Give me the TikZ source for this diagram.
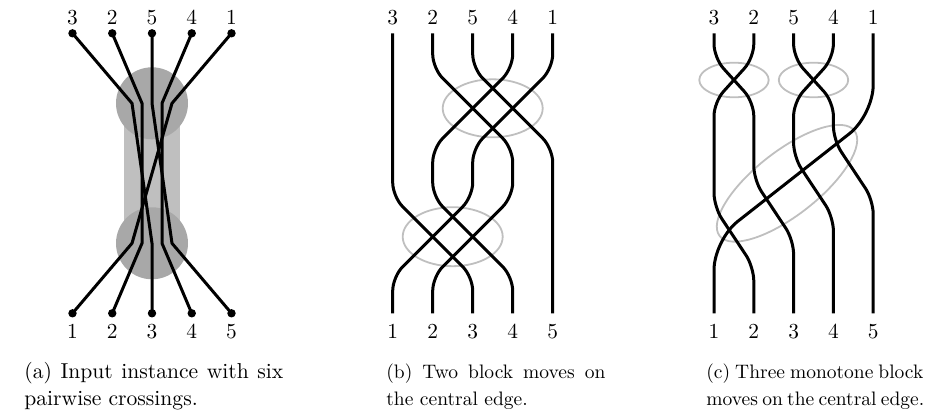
\documentclass[tikz,border=0pt]{standalone}
\begin{document}
\begin{tikzpicture}[x=0.5pt,y=-0.5pt,
  strand/.style={line width=1.5pt, rounded corners=7pt},
  ring/.style={draw=black!25, line width=0.9pt},
  lab/.style={font=\fontsize{10.7}{13}\selectfont, anchor=base, inner sep=0pt},
  captext/.style={font=\fontsize{9.75}{12.5}\selectfont, anchor=base west, inner sep=0pt},
  enddot/.style={circle, fill=black, inner sep=0pt, minimum size=4.2pt}]
\useasboundingbox (0,0) rectangle (932,416);

% ---------- (a)
\fill[black!25] (124,103.3) rectangle (180,243.3);
\fill[black!34] (152,103.3) circle[radius=18pt];
\fill[black!34] (152,243.3) circle[radius=18pt];
\foreach \n/\x in {1/72.5,2/112.25,3/152,4/191.75,5/231.5}{
  \node[enddot] (at\n) at (\x,33.3) {};
  \node[enddot] (ab\n) at (\x,313.3) {};
}
\draw[line width=1.5pt] (at1.center) -- (132,103.3) -- (152,243.3) -- (ab3.center);
\draw[line width=1.5pt] (at2.center) -- (142,103.3) -- (142,243.3) -- (ab2.center);
\draw[line width=1.5pt] (at3.center) -- (152,103.3) -- (172,243.3) -- (ab5.center);
\draw[line width=1.5pt] (at4.center) -- (162,103.3) -- (162,243.3) -- (ab4.center);
\draw[line width=1.5pt] (at5.center) -- (172,103.3) -- (132,243.3) -- (ab1.center);
\foreach \n/\x/\t in {1/72.5/3,2/112.25/2,3/152/5,4/191.75/4,5/231.5/1}{
  \node[lab] (alt\n) at (\x,25) {\t};
}
\foreach \n/\x in {1/72.5,2/112.25,3/152,4/191.75,5/231.5}{
  \node[lab] (alb\n) at (\x,339) {\n};
}
\node[captext] (capa1) at (24,379) {\fontsize{10.8}{13}\selectfont\makebox[129.5pt][s]{(a) Input instance with six}};
\node[captext] (capa2) at (24,406) {\fontsize{10.8}{13}\selectfont pairwise crossings.};

% ---------- (b)
\draw[ring] (492.7,108.3) ellipse[x radius=25pt, y radius=14.5pt];
\draw[ring] (452.7,236.7) ellipse[x radius=25pt, y radius=14.75pt];
\foreach \n/\x in {1/392.7,2/432.7,3/472.7,4/512.7,5/552.7}{
  \coordinate (bt\n) at (\x,33.3);
  \coordinate (bb\n) at (\x,313.3);
}
\draw[strand] (bt1) -- (392.7,196.7) -- (472.7,276.7) -- (bb3);
\draw[strand] (bt2) -- (432.7,68.3) -- (512.7,148.3) -- (512.7,196.7) -- (432.7,276.7) -- (bb2);
\draw[strand] (bt3) -- (472.7,68.3) -- (552.7,148.3) -- (bb5);
\draw[strand] (bt4) -- (512.7,68.3) -- (432.7,148.3) -- (432.7,196.7) -- (512.7,276.7) -- (bb4);
\draw[strand] (bt5) -- (552.7,68.3) -- (472.7,148.3) -- (472.7,196.7) -- (392.7,276.7) -- (bb1);
\foreach \n/\x/\t in {1/392.7/3,2/432.7/2,3/472.7/5,4/512.7/4,5/552.7/1}{
  \node[lab] (blt\n) at (\x,25) {\t};
}
\foreach \n/\x in {1/392.7,2/432.7,3/472.7,4/512.7,5/552.7}{
  \node[lab] (blb\n) at (\x,339) {\n};
}
\node[captext] (capb1) at (386,379) {\makebox[109.5pt][s]{(b) Two block moves on}};
\node[captext] (capb2) at (386,406) {the central edge.};

% ---------- (c)
\draw[ring] (734,80) ellipse[x radius=17.35pt, y radius=8.65pt];
\draw[ring] (813.5,80) ellipse[x radius=17.35pt, y radius=8.65pt];
\draw[ring, rotate around={38:(787,183.3)}] (787,183.3) ellipse[x radius=42.75pt, y radius=16pt];
\foreach \n/\x in {1/714,2/753.8,3/793.6,4/833.4,5/873.2}{
  \coordinate (ct\n) at (\x,33.3);
  \coordinate (cb\n) at (\x,313.3);
}
\draw[strand] (ct1) -- (714,58) -- (753.8,102) -- (753.8,180) -- (793.6,240) -- (cb3);
\draw[strand] (ct2) -- (753.8,58) -- (714,102) -- (714,207) -- (753.8,267) -- (cb2);
\draw[strand] (ct3) -- (793.6,58) -- (833.4,102) -- (833.4,140) -- (873.2,200) -- (cb5);
\draw[strand] (ct4) -- (833.4,58) -- (793.6,102) -- (793.6,157) -- (833.4,217) -- (cb4);
\draw[strand, rounded corners=15pt] (ct5) -- (873.2,115) -- (714,240) -- (cb1);
\foreach \n/\x/\t in {1/714/3,2/753.8/2,3/793.6/5,4/833.4/4,5/873.2/1}{
  \node[lab] (clt\n) at (\x,25) {\t};
}
\foreach \n/\x in {1/714,2/753.8,3/793.6,4/833.4,5/873.2}{
  \node[lab] (clb\n) at (\x,339) {\n};
}
\node[captext] (capc1) at (706,379) {\makebox[108.5pt][s]{(c) Three monotone block}};
\node[captext] (capc2) at (706,406) {\makebox[108.5pt][s]{moves on the central edge.}};
\end{tikzpicture}
\end{document}
